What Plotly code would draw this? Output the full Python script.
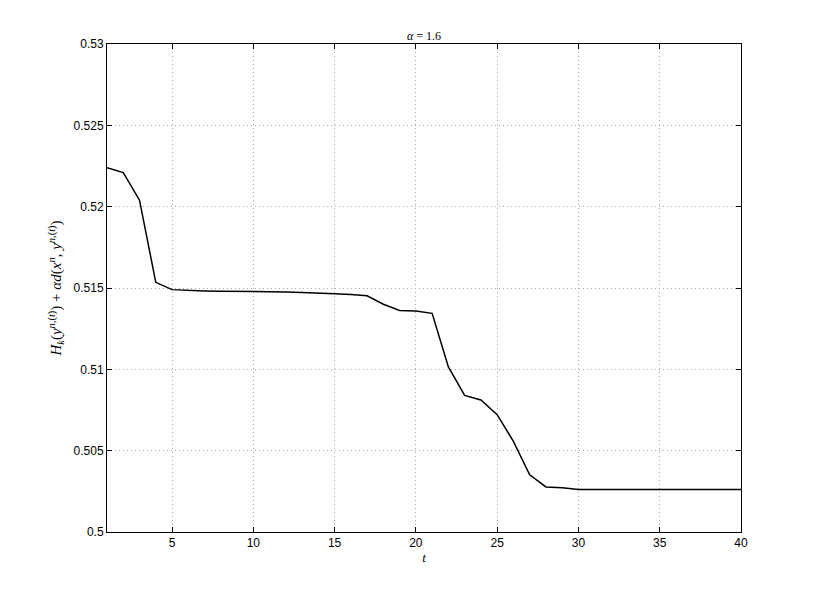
import plotly.graph_objects as go

# iteration index and objective value
t_values = list(range(1, 41))
objective = [
    0.5224, 0.5221, 0.5204, 0.51535, 0.51490, 0.51485, 0.51482, 0.51480, 0.51480, 0.51479,
    0.51478, 0.51476, 0.51473, 0.51467, 0.51465, 0.51460, 0.51452, 0.51400, 0.51362, 0.51358,
    0.51344, 0.51015, 0.50840, 0.50812, 0.50721, 0.50557, 0.50352, 0.50277, 0.50272, 0.50262,
    0.50262, 0.50262, 0.50262, 0.50262, 0.50262, 0.50262, 0.50262, 0.50262, 0.50262, 0.50262,
]

x_ticks = [5, 10, 15, 20, 25, 30, 35, 40]
y_ticks = [0.5, 0.505, 0.51, 0.515, 0.52, 0.525, 0.53]
y_tick_text = ["0.5", "0.505", "0.51", "0.515", "0.52", "0.525", "0.53"]

title_text = "<i>α</i> = 1.6"
x_label = "<i>t</i>"
y_label = ("<i>H<sub>k</sub></i>(<i>y</i><sup><i>n</i>,(<i>t</i>)</sup>) + "
           "<i>αd</i>(<i>x<sup>n</sup></i>, <i>y</i><sup><i>n</i>,(<i>t</i>)</sup>)")

serif = "Liberation Serif, DejaVu Serif, serif"
sans = "Liberation Sans, Arial, sans-serif"

fig = go.Figure()
fig.add_trace(go.Scatter(
    x=t_values,
    y=objective,
    mode="lines",
    line=dict(color="black", width=1.5),
    showlegend=False,
))

axis_common = dict(
    showline=True,
    linecolor="black",
    linewidth=1,
    mirror="ticks",
    ticks="inside",
    ticklen=5,
    tickcolor="black",
    showgrid=True,
    gridcolor="#a8a8a8",
    griddash="1px,3px",
    gridwidth=1,
    zeroline=False,
    tickfont=dict(family=sans, size=12, color="black"),
)

# the page body adds an 8px offset, so margins are shifted to keep the plot box in place
fig.update_layout(
    width=817,
    height=599,
    margin=dict(l=99, r=84, t=36, b=75),
    plot_bgcolor="white",
    paper_bgcolor="white",
    title=dict(text=title_text, x=0.5, xanchor="center", xref="paper",
               y=1, yref="paper", yanchor="bottom", pad=dict(b=4),
               font=dict(family=serif, size=12, color="black")),
    xaxis=dict(
        range=[1, 40],
        tickvals=x_ticks,
        title=dict(text=x_label, font=dict(family=serif, size=13, color="black"), standoff=2),
        **axis_common,
    ),
    yaxis=dict(
        range=[0.5, 0.53],
        tickvals=y_ticks,
        ticktext=y_tick_text,
        title=dict(text=y_label, font=dict(family=serif, size=15, color="black"), standoff=8),
        **axis_common,
    ),
)

fig.write_html("out.html")
